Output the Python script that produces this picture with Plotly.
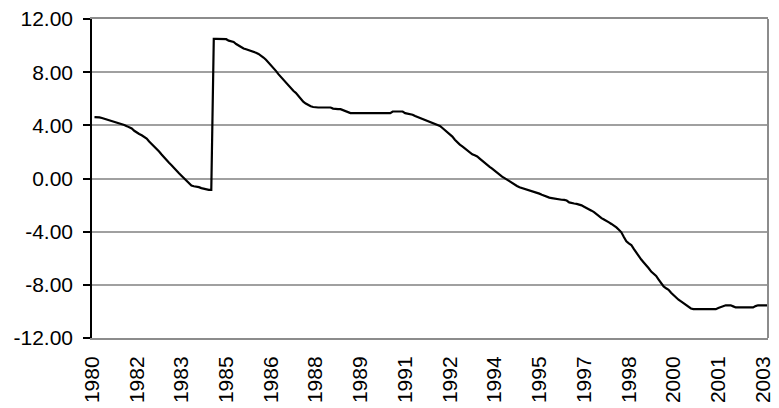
import pandas as pd
import plotly.graph_objects as go

# Monthly categories (Oct 1980 .. Jun 2003)
months = [p.strftime("%Y-%m") for p in pd.period_range("1980-10", "2003-06", freq="M")]

# Series values (first month blank)
values = [
    None, 4.62, 4.62, 4.60, 4.55, 4.49, 4.46, 4.42, 4.36, 4.30, 4.23, 4.17,
    4.08, 4.02, 3.94, 3.85, 3.76, 3.59, 3.44, 3.35, 3.25, 3.12, 3.00, 2.78,
    2.60, 2.40, 2.22, 2.03, 1.80, 1.57, 1.33, 1.18, 1.00, 0.78, 0.59, 0.40,
    0.21, 0.02, -0.20, -0.41, -0.53, -0.58, -0.60, -0.65, -0.72, -0.78, -0.84, -0.85,
    -0.86, 10.50, 10.50, 10.50, 10.50, 10.50, 10.48, 10.37, 10.32, 10.27, 10.12, 10.00,
    9.90, 9.78, 9.72, 9.66, 9.62, 9.54, 9.46, 9.37, 9.26, 9.10, 8.93, 8.74,
    8.55, 8.33, 8.10, 7.85, 7.63, 7.43, 7.20, 6.98, 6.75, 6.60, 6.45, 6.22,
    5.98, 5.78, 5.64, 5.52, 5.43, 5.38, 5.34, 5.34, 5.34, 5.34, 5.34, 5.34,
    5.34, 5.26, 5.22, 5.22, 5.22, 5.14, 5.05, 4.96, 4.92, 4.92, 4.92, 4.92,
    4.92, 4.92, 4.92, 4.92, 4.92, 4.92, 4.92, 4.92, 4.92, 4.92, 4.92, 4.92,
    4.92, 5.04, 5.04, 5.04, 5.04, 5.04, 4.92, 4.88, 4.87, 4.80, 4.70, 4.63,
    4.56, 4.49, 4.43, 4.35, 4.27, 4.20, 4.12, 4.04, 3.96, 3.80, 3.63, 3.50,
    3.36, 3.15, 2.92, 2.72, 2.55, 2.42, 2.28, 2.12, 1.95, 1.82, 1.75, 1.66,
    1.50, 1.33, 1.17, 1.02, 0.88, 0.75, 0.58, 0.42, 0.28, 0.14, 0.03, -0.10,
    -0.22, -0.33, -0.45, -0.56, -0.66, -0.72, -0.76, -0.80, -0.86, -0.95, -1.02, -1.08,
    -1.14, -1.22, -1.30, -1.37, -1.44, -1.47, -1.51, -1.55, -1.58, -1.60, -1.61, -1.66,
    -1.80, -1.86, -1.88, -1.91, -1.94, -2.02, -2.12, -2.24, -2.34, -2.42, -2.53, -2.70,
    -2.88, -2.98, -3.08, -3.16, -3.30, -3.42, -3.53, -3.68, -3.86, -4.05, -4.40, -4.72,
    -4.88, -5.00, -5.30, -5.60, -5.88, -6.10, -6.32, -6.50, -6.75, -7.00, -7.18, -7.33,
    -7.60, -7.88, -8.12, -8.26, -8.37, -8.60, -8.80, -8.95, -9.12, -9.25, -9.38, -9.55,
    -9.68, -9.78, -9.83, -9.83, -9.83, -9.83, -9.83, -9.83, -9.83, -9.83, -9.83, -9.83,
    -9.74, -9.66, -9.56, -9.54, -9.54, -9.54, -9.62, -9.70, -9.70, -9.70, -9.70, -9.70,
    -9.70, -9.70, -9.70, -9.60, -9.54, -9.54, -9.54, -9.54, -9.54,
]

# X tick labels (every 18 months)
x_tick_labels = ["1980", "1982", "1983", "1985", "1986", "1988", "1989", "1991",
                 "1992", "1994", "1995", "1997", "1998", "2000", "2001", "2003"]
x_tick_step = 18

# Y ticks
y_tick_vals = [-12, -8, -4, 0, 4, 8, 12]
y_tick_labels = ["-12.00", "-8.00", "-4.00", "0.00", "4.00", "8.00", "12.00"]

x_tick_vals = [months[i * x_tick_step] for i in range(len(x_tick_labels))]

font_family = "Liberation Sans, Arial, sans-serif"

fig = go.Figure()
fig.add_trace(go.Scatter(
    x=months, y=values, mode="lines",
    line=dict(color="black", width=2.2),
    connectgaps=False, showlegend=False, hoverinfo="skip",
))

fig.update_layout(
    width=779, height=408,
    margin=dict(l=92, r=5, t=19, b=70),
    paper_bgcolor="white", plot_bgcolor="white",
    font=dict(family=font_family, size=21, color="black"),
    showlegend=False,
    shapes=[dict(type="line", xref="paper", yref="paper", x0=1, x1=1, y0=0, y1=1,
                 line=dict(color="#8c8c8c", width=2), layer="above")],
)

fig.update_xaxes(
    type="category", range=[0, len(months) - 1],
    tickmode="array", tickvals=x_tick_vals, ticktext=x_tick_labels,
    tickangle=-90, ticks="", showgrid=False, zeroline=False,
    showline=True, linecolor="#8c8c8c", linewidth=2, mirror=True,
    ticklabelstandoff=8,
    tickfont=dict(family=font_family, size=21, color="black"),
)

fig.update_yaxes(
    range=[-12, 12], tickmode="array", tickvals=y_tick_vals, ticktext=y_tick_labels,
    showgrid=True, gridcolor="#a0a0a0", gridwidth=2, zeroline=False,
    showline=True, linecolor="black", linewidth=1.5,
    ticks="outside", ticklen=7, tickcolor="black", tickwidth=1.5,
    ticklabelstandoff=6,
    tickfont=dict(family=font_family, size=21, color="black"),
)

fig.write_html(
    "out.html",
    config={"displayModeBar": False},
    post_script="document.body.style.margin='0';document.body.style.overflow='hidden';",
)
